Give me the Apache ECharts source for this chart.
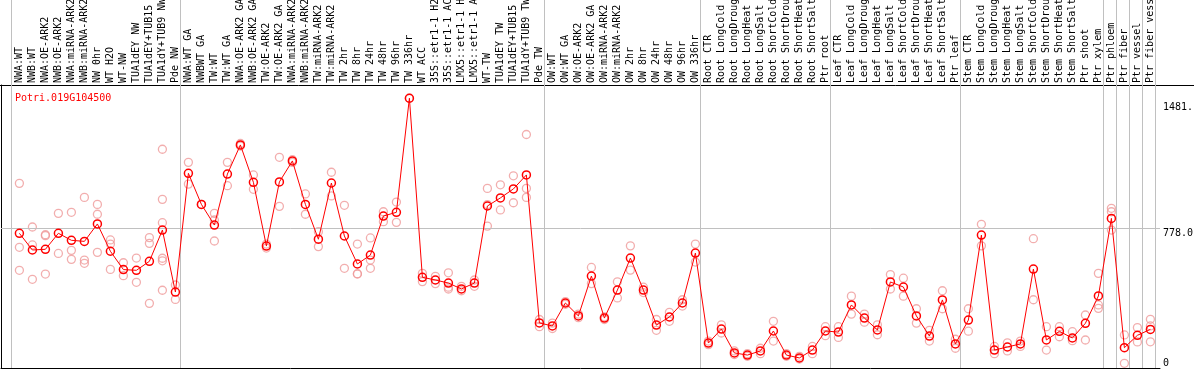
<!DOCTYPE html>
<html><head><meta charset="utf-8">
<script src="https://cdn.jsdelivr.net/npm/echarts@6/dist/echarts.min.js"></script>
<style>html,body{margin:0;padding:0;background:#fff;overflow:hidden}#c{width:1194px;height:370px}</style>
</head><body><div id="c"></div>
<script>
const title = 'Potri.019G104500';
const categories = [
'NWA:WT','NWB:WT','NWA:OE-ARK2','NWB:OE-ARK2','NWA:miRNA-ARK2','NWB:miRNA-ARK2','NW 0hr','WT H2O','WT-NW','TUA1dEY NW','TUA1dEY+TUB15 NW','TUA1dY+TUB9 NW','Pde NW',
'NWA:WT GA','NWBWT GA','TW:WT','TW:WT GA','NWA:OE-ARK2 GA','NWB:OE-ARK2 GA','TW:OE-ARK2','TW:OE-ARK2 GA','NWA:miRNA-ARK2 GA','NWB:miRNA-ARK2 GA','TW:miRNA-ARK2','TW:miRNA-ARK2 GA','TW 2hr','TW 8hr','TW 24hr','TW 48hr','TW 96hr','TW 336hr','WT ACC','35S::etr1-1 H2O','35S::etr1-1 ACC','LMX5::etr1-1 H2O','LMX5::etr1-1 ACC','WT-TW','TUA1dEY TW','TUA1dEY+TUB15 TW','TUA1dY+TUB9 TW','Pde TW',
'OW:WT','OW:WT GA','OW:OE-ARK2','OW:OE-ARK2 GA','OW:miRNA-ARK2','OW:miRNA-ARK2 GA','OW 2hr','OW 8hr','OW 24hr','OW 48hr','OW 96hr','OW 336hr',
'Root CTR','Root LongCold','Root LongDrought','Root LongHeat','Root LongSalt','Root ShortCold','Root ShortDrought','Root ShortHeat','Root ShortSalt','Ptr root',
'Leaf CTR','Leaf LongCold','Leaf LongDrought','Leaf LongHeat','Leaf LongSalt','Leaf ShortCold','Leaf ShortDrought','Leaf ShortHeat','Leaf ShortSalt','Ptr leaf',
'Stem CTR','Stem LongCold','Stem LongDrought','Stem LongHeat','Stem LongSalt','Stem ShortCold','Stem ShortDrought','Stem ShortHeat','Stem ShortSalt','Ptr shoot','Ptr xylem',
'Ptr phloem','Ptr fiber','Ptr vessel','Ptr fiber vessel'];

const means = [
750,657,661,750,711,705,802,650,548,544,594,768,423,
1084,911,796,1080,1242,1034,679,1036,1153,911,717,1030,735,579,629,846,867,1502,505,490,473,440,473,902,947,997,1075,251,
234,362,290,512,278,434,612,434,239,284,362,640,
139,217,84,72,95,206,72,56,100,206,
200,351,278,212,479,451,290,178,379,134,
267,740,100,117,134,551,156,204,167,249,401,
833,113,182,215];

const replicates = [
[1028,672,544],[785,685,494],[742,737,523],[861,638],[867,655,605],[950,601,583],[911,856,644],[713,690,549],[586,514],[612,477],[726,694,360],[1218,939,809,611,597,433],[462,382],
[1145,1024],[911],[861,824,707],[1145,1015],[1250,1236],[1075,995],[690,668],[1173,900],[1160,1145],[969,856],[759,676],[1090,958],[906,555],[690,525,523],[724,601,555],[870,815],[924,811],[1502],[527,481],
[510,470],[530,440,450],[430,455],[490,455],[1000,790,910],[1020,880],[1070,920],[1300,1000,950],[270,230],
[250,220],[370,355],[300,280],[560,470],[285,270],[480,390],[680,545],[450,420],[270,210],[310,260],[380,345],[690,590],
[150,130],[240,195],[95,75],[80,65],[110,80],[260,150],[80,65],[65,50],[120,80],[230,180],
[230,170],[400,300],[300,255],[240,185],[520,440],[500,400],[330,250],[210,150],[430,330],[160,110],
[330,205],[800,680],[120,80],[140,95],[150,120],[720,380],[230,100],[230,174],[202,152],[295,156],[527,351,332],
[889,870,768],[184,26],[225,145],[271,234,146]];

const groupStarts = [0,13,41,53,63,73,84,85,86,87,88];
const yTickValues = [0,778,1481];
const yTickLabels = ['0','778.0','1481.'];

const FONT = 'DejaVu Sans Mono';
const PX = 13;               // px per category
const firstX = 19.4;         // pixel of first category
const plotLeft = 1, plotW = 1159;
const xMin = -(firstX - plotLeft) / PX;
const xMax = xMin + plotW / PX;
const lblLeft = 0, lblW = 1194;
const xMin2 = xMin - (plotLeft - lblLeft) / PX;
const xMax2 = xMin2 + lblW / PX;
const plotTop = 85, plotH = 283;
const pxPerUnit = 0.1796;
const yMax = plotH / pxPerUnit;
const sepOffset = -0.65;

const repData = [];
replicates.forEach((arr, i) => arr.forEach(v => repData.push([i, v])));
const meanData = means.map((v, i) => [i, v]);
const sepLines = groupStarts.map(g => ({xAxis: g + sepOffset}));
const gray = '#c0c0c0';

const chart = echarts.init(document.getElementById('c'), null, {renderer: 'canvas'});
chart.setOption({
  animation: false,
  backgroundColor: '#fff',
  title: {text: title, left: 10, top: 88, textStyle: {fontFamily: FONT, fontSize: 10, fontWeight: 'normal', color: '#ff0000'}},
  grid: [
    {left: plotLeft, top: plotTop, width: plotW, height: plotH, containLabel: false, outerBoundsMode: 'none'},
    {left: lblLeft, top: 0, width: lblW, height: plotTop, containLabel: false, outerBoundsMode: 'none'}
  ],
  xAxis: [
    {gridIndex: 0, type: 'value', min: xMin, max: xMax, position: 'bottom',
     axisLine: {show: true, onZero: false, lineStyle: {color: '#000', width: 1}},
     axisTick: {show: false}, axisLabel: {show: false}, splitLine: {show: false}},
    {gridIndex: 0, type: 'value', min: xMin, max: xMax, position: 'top',
     axisLine: {show: false}, axisTick: {show: false}, splitLine: {show: false},
     axisLabel: {show: true, rotate: 90, margin: 2, customValues: categories.map((c, i) => i),
       formatter: v => categories[Math.round(v)] || '', fontFamily: FONT, fontSize: 10, color: '#000', hideOverlap: false}},
    {gridIndex: 1, type: 'value', min: xMin2, max: xMax2, position: 'bottom',
     axisLine: {show: true, onZero: false, lineStyle: {color: '#000', width: 1}},
     axisTick: {show: false}, axisLabel: {show: false}, splitLine: {show: false}}
  ],
  yAxis: [
    {gridIndex: 0, type: 'value', min: 0, max: yMax, position: 'left',
     axisLine: {show: true, onZero: false, lineStyle: {color: '#000', width: 1}},
     axisTick: {show: false}, axisLabel: {show: false}, splitLine: {show: false}},
    {gridIndex: 0, type: 'value', min: 0, max: yMax, position: 'right',
     axisLine: {show: false}, axisTick: {show: false}, splitLine: {show: false},
     axisLabel: {show: true, margin: 3, verticalAlign: 'top', customValues: yTickValues.slice(1),
       formatter: v => yTickLabels[yTickValues.indexOf(v)], fontFamily: FONT, fontSize: 10, color: '#000'}},
    {gridIndex: 0, type: 'value', min: 0, max: yMax, position: 'right',
     axisLine: {show: false}, axisTick: {show: false}, splitLine: {show: false},
     axisLabel: {show: true, margin: 3, verticalAlign: 'bottom', customValues: yTickValues.slice(0, 1),
       formatter: v => yTickLabels[yTickValues.indexOf(v)], fontFamily: FONT, fontSize: 10, color: '#000'}},
    {gridIndex: 1, type: 'value', min: 0, max: 1, show: false}
  ],
  series: [
    {type: 'line', xAxisIndex: 2, yAxisIndex: 3, data: [], silent: true,
     markLine: {silent: true, symbol: 'none', label: {show: false}, lineStyle: {color: gray, type: 'solid', width: 1}, data: sepLines.map(d => ({xAxis: d.xAxis}))}},
    {type: 'scatter', xAxisIndex: 0, yAxisIndex: 0, data: repData, symbol: 'circle', symbolSize: 8, silent: true,
     itemStyle: {color: 'rgba(0,0,0,0)', borderColor: '#ef9a9a', borderWidth: 1.3},
     markLine: {silent: true, symbol: 'none', label: {show: false}, lineStyle: {color: gray, type: 'solid', width: 1},
       data: sepLines.concat([{yAxis: yTickValues[1]}])}},
    {type: 'line', xAxisIndex: 0, yAxisIndex: 0, data: meanData, symbol: 'circle', symbolSize: 8, silent: true,
     lineStyle: {color: '#ff0000', width: 1}, itemStyle: {color: 'rgba(0,0,0,0)', borderColor: '#ff0000', borderWidth: 1.5}, z: 5}
  ]
});
</script></body></html>
